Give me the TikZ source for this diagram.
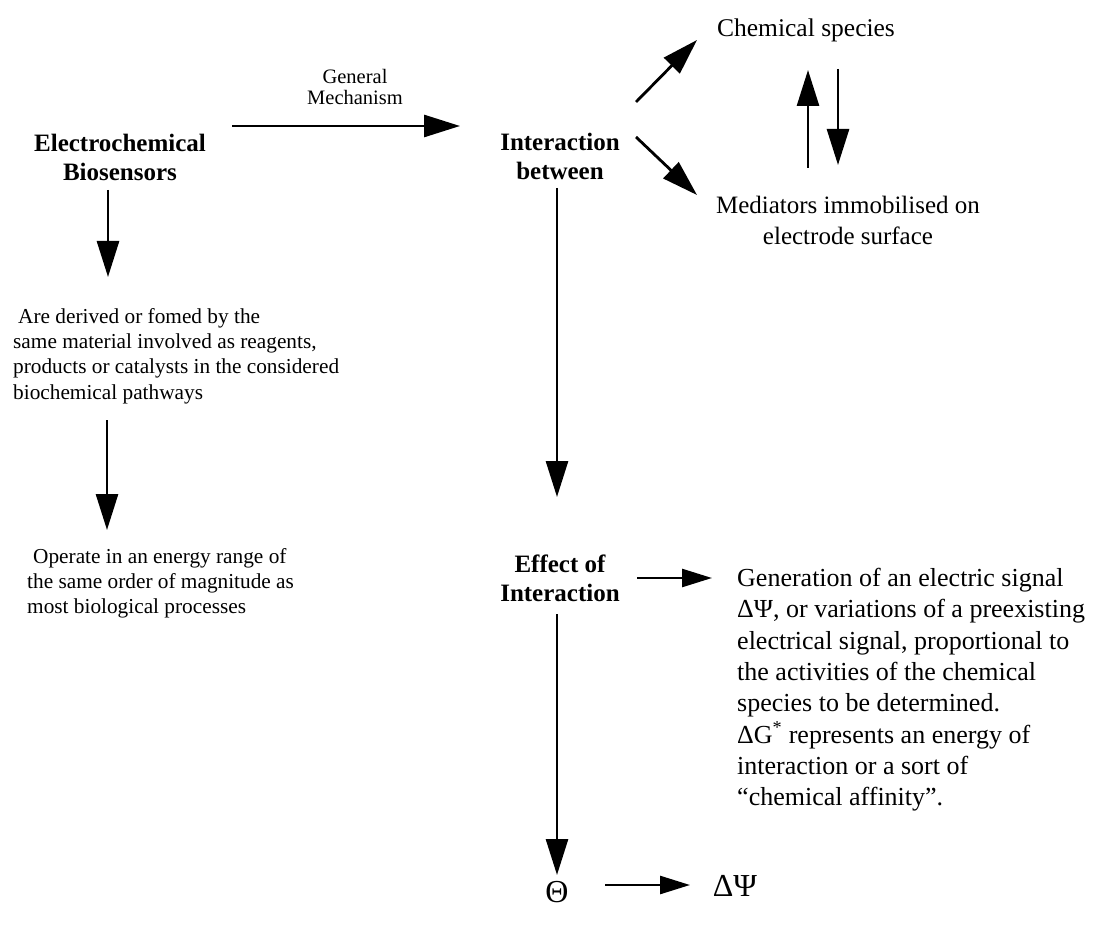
\documentclass[tikz,border=0pt]{standalone}
\usepackage{fontspec}
\setmainfont{Liberation Serif}
\usetikzlibrary{arrows.meta}
\begin{document}
\begin{tikzpicture}[x=1pt,y=-1pt,
 arr/.style={line width=2.8pt,-{Triangle[length=36pt,width=22pt]}},
 sarr/.style={line width=2.6pt,-{Triangle[length=30pt,width=18pt]}},
 ttl/.style={font=\fontsize{25}{29}\selectfont\bfseries,align=center,inner sep=0pt},
 body/.style={font=\fontsize{26}{31.3}\selectfont,align=left,inner sep=0pt},
 small/.style={font=\fontsize{21.3}{25.3}\selectfont,align=left,inner sep=0pt},
 lbl/.style={font=\fontsize{20.5}{21}\selectfont,align=center,inner sep=0pt},
 sym/.style={font=\fontsize{32}{34}\selectfont,inner sep=0pt}]
\useasboundingbox (0,0) rectangle (1095,925);
\node[ttl] (ecb) at (120,157) {Electrochemical\\Biosensors};
\node[lbl] (gm) at (355,87) {General\\Mechanism};
\node[ttl] (ib) at (560,156) {Interaction\\between};
\node[body,font=\fontsize{25.5}{31}\selectfont,align=center] (cs) at (806,30) {Chemical species};
\node[body,font=\fontsize{25}{31}\selectfont,align=center] (med) at (848,220) {Mediators immobilised on\\electrode surface};
\node[small,anchor=north west] (d1) at (13,308) {\hspace{5pt}Are derived or fomed by the\\same material involved as reagents,\\products or catalysts in the considered\\biochemical pathways};
\node[small,anchor=north west] (d2) at (27,548) {\hspace{6pt}Operate in an energy range of\\the same order of magnitude as\\most biological processes};
\node[ttl] (eoi) at (560,578) {Effect of\\Interaction};
\node[body,anchor=north west] (gen) at (737,568) {Generation of an electric signal\\ΔΨ, or variations of a preexisting\\electrical signal, proportional to\\the activities of the chemical\\species to be determined.\\ΔG\textsuperscript{*} represents an energy of\\interaction or a sort of\\“chemical affinity”.};
\node[sym] (theta) at (557,892) {Θ};
\node[sym] (dpsi) at (735,886) {ΔΨ};
% connectors
\draw[arr] ([shift={(112,-31)}]ecb.center) -- ([shift={(-100,-30)}]ib.center);
\draw[arr] ([shift={(76,-54)}]ib.center) -- ([shift={(-109,10)}]cs.center);
\draw[arr] ([shift={(76,-19)}]ib.center) -- ([shift={(-151,-25)}]med.center);
\draw[arr] ([shift={(-40,-52)}]med.center) -- ([shift={(2,40)}]cs.center);
\draw[arr] ([shift={(32,39)}]cs.center) -- ([shift={(-10,-55)}]med.center);
\draw[arr] ([shift={(-12,33)}]ecb.center) -- ([shift={(95,-31)}]d1.north west);
\draw[arr] ([shift={(94,112)}]d1.north west) -- ([shift={(80,-18)}]d2.north west);
\draw[arr] ([shift={(-3,32)}]ib.center) -- ([shift={(-3,-81)}]eoi.center);
\draw[sarr] ([shift={(77,0)}]eoi.center) -- ([shift={(-25,10)}]gen.north west);
\draw[arr] ([shift={(-3,36)}]eoi.center) -- ([shift={(0,-17)}]theta.center);
\draw[sarr] ([shift={(48,-7)}]theta.center) -- ([shift={(-45,-1)}]dpsi.center);
\end{tikzpicture}
\end{document}
